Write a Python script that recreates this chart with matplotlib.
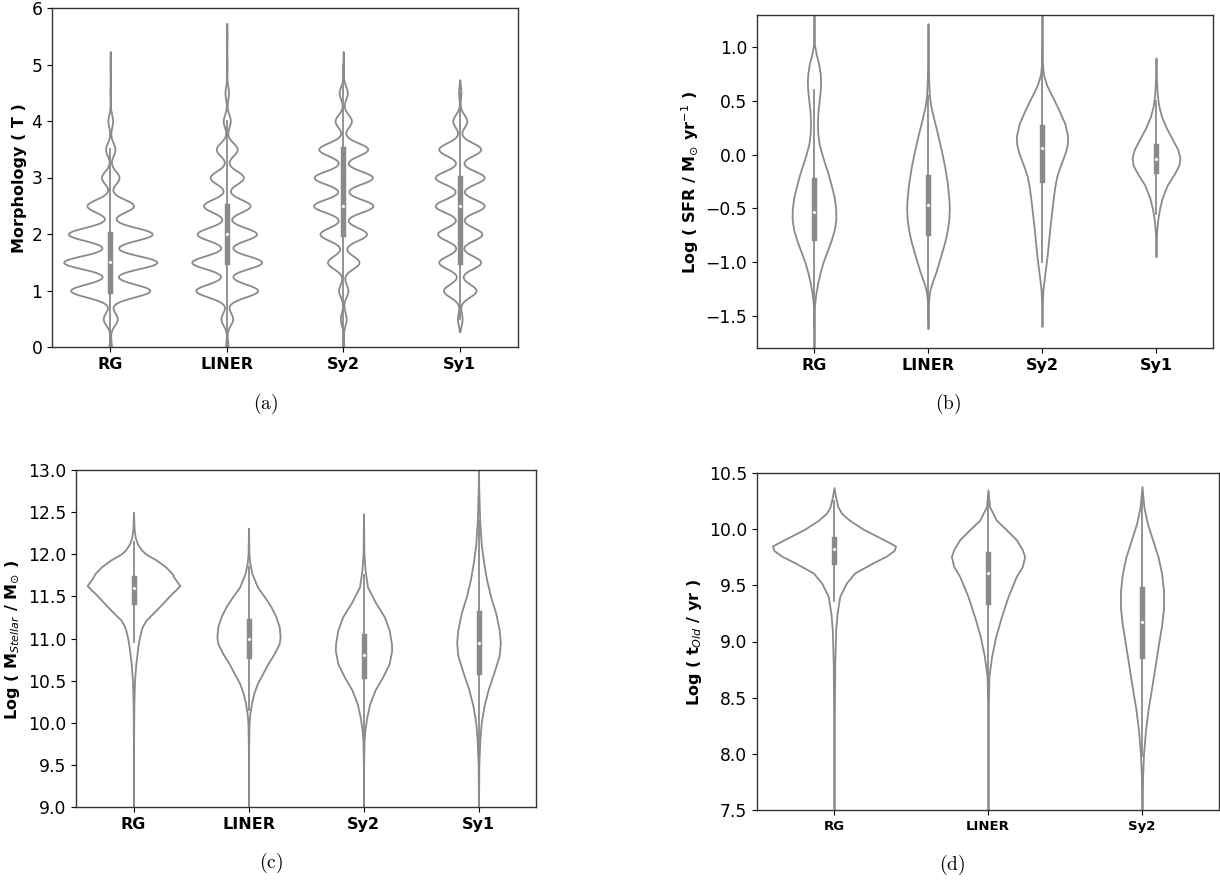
import numpy as np
import matplotlib.pyplot as plt

plt.rcParams['font.family'] = 'DejaVu Sans'
plt.rcParams['mathtext.fontset'] = 'dejavusans'

W, H = 1220, 884
GRAY = '#8a8a8a'
LW = 1.3

classes4 = ['RG', 'LINER', 'Sy2', 'Sy1']
classes3 = ['RG', 'LINER', 'Sy2']

# ---------------- (a) morphology: relative counts at each T value
t_values = [0.0, 0.5, 1.0, 1.5, 2.0, 2.5, 3.0, 3.5, 4.0, 4.5, 5.0, 5.5]
t_rg = [1.0, 6.0, 34.0, 40.0, 36.0, 20.0, 7.5, 4.0, 2.0, 0.3, 0.3, 0.0]
t_liner = [1.0, 5.0, 26.5, 30.0, 25.5, 20.0, 14.3, 9.0, 3.0, 1.5, 0.3, 0.3]
t_sy2 = [0.5, 2.5, 4.0, 13.5, 20.0, 25.5, 25.0, 21.0, 7.0, 3.5, 0.3, 0.0]
t_sy1 = [0.0, 2.0, 14.0, 18.0, 19.0, 21.0, 21.0, 18.0, 6.0, 1.0, 0.0, 0.0]
t_q1 = [1.0, 1.5, 2.0, 1.5]
t_med = [1.5, 2.0, 2.5, 2.5]
t_q3 = [2.0, 2.5, 3.5, 3.0]
t_lo = [0.0, 0.0, 0.0, 0.5]
t_hi = [3.5, 4.0, 5.0, 4.5]

# ---------------- (b) log SFR: outline half-widths
sfr_rg_y = [1.35, 1.05, 1.0, 0.93, 0.85, 0.75, 0.68, 0.6, 0.5, 0.4, 0.3, 0.2, 0.1, 0.0,
            -0.1, -0.2, -0.3, -0.4, -0.5, -0.6, -0.7, -0.8, -0.9, -1.0, -1.1, -1.2,
            -1.3, -1.4, -1.5, -1.85]
sfr_rg_w = [0.0, 0.0, 0.008, 0.02, 0.04, 0.055, 0.058, 0.055, 0.045, 0.035, 0.03, 0.033,
            0.045, 0.07, 0.1, 0.13, 0.155, 0.178, 0.19, 0.192, 0.178, 0.15, 0.115, 0.08,
            0.053, 0.032, 0.015, 0.005, 0.001, 0.0]
sfr_liner_y = [1.22, 0.9, 0.7, 0.55, 0.45, 0.35, 0.2, 0.04, -0.11, -0.27, -0.42, -0.5,
               -0.6, -0.7, -0.8, -0.95, -1.1, -1.2, -1.27, -1.35, -1.5, -1.62]
sfr_liner_w = [0.0, 0.002, 0.006, 0.012, 0.025, 0.047, 0.082, 0.117, 0.146, 0.17, 0.184,
               0.187, 0.183, 0.17, 0.15, 0.11, 0.067, 0.033, 0.015, 0.006, 0.001, 0.0]
sfr_sy2_y = [1.35, 1.0, 0.85, 0.75, 0.65, 0.57, 0.5, 0.41, 0.29, 0.17, 0.1, 0.04, -0.05,
             -0.12, -0.2, -0.3, -0.42, -0.55, -0.67, -0.8, -0.92, -1.05, -1.17, -1.26,
             -1.4, -1.6]
sfr_sy2_w = [0.0, 0.001, 0.004, 0.012, 0.04, 0.076, 0.11, 0.15, 0.2, 0.225, 0.222, 0.21,
             0.18, 0.155, 0.13, 0.112, 0.097, 0.083, 0.07, 0.058, 0.047, 0.032, 0.018,
             0.008, 0.002, 0.0]
sfr_sy1_y = [0.9, 0.85, 0.7, 0.55, 0.45, 0.35, 0.25, 0.15, 0.05, -0.03, -0.1, -0.18,
             -0.28, -0.4, -0.5, -0.6, -0.7, -0.8, -0.95]
sfr_sy1_w = [0.0, 0.001, 0.004, 0.012, 0.025, 0.05, 0.09, 0.14, 0.19, 0.21, 0.2, 0.16,
             0.1, 0.055, 0.032, 0.016, 0.007, 0.003, 0.0]
sfr_q1 = [-0.775, -0.725, -0.235, -0.15]
sfr_med = [-0.537, -0.47, 0.06, -0.04]
sfr_q3 = [-0.24, -0.205, 0.26, 0.08]
sfr_lo = [-1.6, -1.55, -1.0, -0.55]
sfr_hi = [0.6, 0.55, 1.0, 0.5]

# ---------------- (c) log stellar mass
ms_rg_y = [12.5, 12.3, 12.2, 12.12, 12.05, 12.0, 11.93, 11.85, 11.77, 11.73, 11.68, 11.63,
           11.58, 11.53, 11.42, 11.3, 11.22, 11.15, 11.1, 11.0, 10.9, 10.7, 10.5, 10.2,
           9.8, 8.9]
ms_rg_w = [0.0, 0.005, 0.015, 0.035, 0.07, 0.11, 0.2, 0.28, 0.336, 0.35, 0.375, 0.403,
           0.37, 0.33, 0.255, 0.17, 0.11, 0.08, 0.067, 0.05, 0.038, 0.02, 0.009, 0.003,
           0.001, 0.0]
ms_liner_y = [12.31, 12.0, 11.89, 11.77, 11.61, 11.5, 11.38, 11.26, 11.14, 11.02, 10.94,
              10.82, 10.7, 10.58, 10.47, 10.35, 10.23, 10.11, 10.0, 9.7, 8.9]
ms_liner_w = [0.0, 0.004, 0.012, 0.03, 0.078, 0.136, 0.194, 0.238, 0.267, 0.275, 0.267,
              0.223, 0.168, 0.122, 0.078, 0.046, 0.026, 0.012, 0.005, 0.001, 0.0]
ms_sy2_y = [12.48, 12.0, 11.81, 11.61, 11.42, 11.26, 11.1, 10.94, 10.86, 10.7, 10.54,
            10.39, 10.23, 10.07, 9.91, 9.79, 9.5, 8.9]
ms_sy2_w = [0.0, 0.004, 0.014, 0.035, 0.107, 0.18, 0.223, 0.243, 0.245, 0.223, 0.165,
            0.101, 0.055, 0.029, 0.012, 0.005, 0.001, 0.0]
ms_sy1_y = [13.1, 12.8, 12.4, 12.1, 11.9, 11.7, 11.5, 11.3, 11.1, 10.95, 10.8, 10.6, 10.4,
            10.2, 10.0, 9.8, 9.5, 8.9]
ms_sy1_w = [0.0, 0.002, 0.01, 0.025, 0.045, 0.07, 0.105, 0.15, 0.18, 0.19, 0.18, 0.135,
            0.085, 0.048, 0.024, 0.012, 0.003, 0.0]
ms_q1 = [11.43, 10.79, 10.55, 10.6]
ms_med = [11.6, 11.0, 10.81, 10.95]
ms_q3 = [11.72, 11.21, 11.03, 11.3]
ms_lo = [10.96, 10.15, 9.85, 9.5]
ms_hi = [12.15, 11.85, 11.75, 12.4]

# ---------------- (d) log age of the old population
age_rg_y = [10.37, 10.29, 10.2, 10.14, 10.08, 10.0, 9.94, 9.88, 9.85, 9.81, 9.76, 9.7,
            9.61, 9.52, 9.4, 9.25, 9.1, 8.8, 8.3, 7.4]
age_rg_w = [0.0, 0.01, 0.025, 0.05, 0.1, 0.19, 0.275, 0.36, 0.4, 0.39, 0.34, 0.253,
            0.134, 0.08, 0.037, 0.02, 0.011, 0.005, 0.002, 0.0]
age_liner_y = [10.35, 10.2, 10.08, 9.995, 9.906, 9.817, 9.757, 9.668, 9.58, 9.4, 9.22,
               9.045, 8.87, 8.69, 8.4, 7.4]
age_liner_w = [0.0, 0.01, 0.054, 0.119, 0.184, 0.223, 0.238, 0.223, 0.184, 0.13, 0.087,
               0.05, 0.024, 0.006, 0.002, 0.0]
age_sy2_y = [10.38, 10.2, 10.05, 9.9, 9.75, 9.6, 9.45, 9.3, 9.15, 9.0, 8.8, 8.6, 8.4,
             8.2, 8.0, 7.8, 7.4]
age_sy2_w = [0.0, 0.012, 0.035, 0.07, 0.105, 0.128, 0.14, 0.14, 0.128, 0.11, 0.087, 0.064,
             0.04, 0.022, 0.01, 0.004, 0.0]
age_q1 = [9.705, 9.355, 8.87]
age_med = [9.82, 9.61, 9.17]
age_q3 = [9.915, 9.775, 9.47]
age_lo = [9.36, 8.69, 7.98]
age_hi = [10.25, 10.3, 10.3]


def px_axes(l, t, r, b):
    return fig.add_axes([l / W, 1 - b / H, (r - l) / W, (b - t) / H])


def draw_violin(ax, x, y, w):
    y = np.asarray(y, dtype=float)
    w = np.asarray(w, dtype=float)
    ax.fill_betweenx(y, x - w, x + w, facecolor='white', edgecolor=GRAY,
                     linewidth=LW, zorder=1)


def draw_box(ax, x, lo, q1, med, q3, hi):
    ax.plot([x, x], [lo, hi], color=GRAY, lw=LW, zorder=2)
    ax.plot([x, x], [q1, q3], color=GRAY, lw=LW * 3, zorder=2)
    ax.scatter([x], [med], s=(LW * 2) ** 2, color='white', edgecolor=GRAY,
               linewidths=0.4, zorder=3)


def style(ax, names, ylim, yticks, xsize=11.5):
    ax.set_xlim(-0.5, len(names) - 0.5)
    ax.set_ylim(*ylim)
    ax.set_xticks(range(len(names)))
    ax.set_xticklabels(names, fontweight='bold', fontsize=xsize)
    ax.set_yticks(yticks)
    ax.tick_params(axis='y', labelsize=12.3)
    for sp in ax.spines.values():
        sp.set_color('#333333')
        sp.set_linewidth(1.0)


fig = plt.figure(figsize=(W / 100, H / 100), dpi=100)

# (a) kernel density of the discrete T counts, scaled across the panel
ax = px_axes(52, 8, 518, 347)
bw = 0.115
profiles = []
for counts in [t_rg, t_liner, t_sy2, t_sy1]:
    keep = np.array(counts) > 0
    lev = np.array(t_values)[keep]
    cnt = np.array(counts)[keep]
    grid = np.linspace(lev.min() - 2 * bw, lev.max() + 2 * bw, 600)
    dens = (cnt[:, None] * np.exp(-0.5 * ((grid[None, :] - lev[:, None]) / bw) ** 2)).sum(0)
    profiles.append((grid, dens))
peak = max(d.max() for _, d in profiles)
for i, (grid, dens) in enumerate(profiles):
    draw_violin(ax, i, grid, 0.4 * dens / peak)
    draw_box(ax, i, t_lo[i], t_q1[i], t_med[i], t_q3[i], t_hi[i])
style(ax, classes4, (0, 6), range(0, 7))
fig.text(20 / W, 1 - 178 / H, 'Morphology ( T )', rotation=90, ha='center',
         va='center', fontsize=11.5, fontweight='bold')

# (b)
ax = px_axes(757, 15, 1213, 348)
for i, (y, w) in enumerate([(sfr_rg_y, sfr_rg_w), (sfr_liner_y, sfr_liner_w),
                            (sfr_sy2_y, sfr_sy2_w), (sfr_sy1_y, sfr_sy1_w)]):
    draw_violin(ax, i, y, w)
    draw_box(ax, i, sfr_lo[i], sfr_q1[i], sfr_med[i], sfr_q3[i], sfr_hi[i])
style(ax, classes4, (-1.8, 1.3), [-1.5, -1.0, -0.5, 0.0, 0.5, 1.0])
fig.text(690 / W, 1 - 182 / H, r'Log ( SFR / M$_{\odot}$ yr$^{-1}$ )', rotation=90,
         ha='center', va='center', fontsize=11.5, fontweight='bold')

# (c)
ax = px_axes(76, 470, 536, 807)
for i, (y, w) in enumerate([(ms_rg_y, ms_rg_w), (ms_liner_y, ms_liner_w),
                            (ms_sy2_y, ms_sy2_w), (ms_sy1_y, ms_sy1_w)]):
    draw_violin(ax, i, y, w)
    draw_box(ax, i, ms_lo[i], ms_q1[i], ms_med[i], ms_q3[i], ms_hi[i])
style(ax, classes4, (9.0, 13.0), [9.0, 9.5, 10.0, 10.5, 11.0, 11.5, 12.0, 12.5, 13.0])
fig.text(13 / W, 1 - 640 / H, r'Log ( M$_{Stellar}$ / M$_{\odot}$ )', rotation=90,
         ha='center', va='center', fontsize=11.5, fontweight='bold')

# (d)
ax = px_axes(757, 473, 1219, 810)
for i, (y, w) in enumerate([(age_rg_y, age_rg_w), (age_liner_y, age_liner_w),
                            (age_sy2_y, age_sy2_w)]):
    draw_violin(ax, i, y, w)
    draw_box(ax, i, age_lo[i], age_q1[i], age_med[i], age_q3[i], age_hi[i])
style(ax, classes3, (7.5, 10.5), [7.5, 8.0, 8.5, 9.0, 9.5, 10.0, 10.5], xsize=9.5)
fig.text(695 / W, 1 - 642 / H, r'Log ( t$_{Old}$ / yr )', rotation=90,
         ha='center', va='center', fontsize=11.5, fontweight='bold')

# sub-figure captions
for label, x, y in [('(a)', 266, 404), ('(b)', 948, 404), ('(c)', 271, 863), ('(d)', 952, 865)]:
    fig.text(x / W, 1 - y / H, r'$\mathrm{' + label + '}$', math_fontfamily='cm',
             ha='center', va='center', fontsize=14)

fig.savefig('out.png', dpi=100)
